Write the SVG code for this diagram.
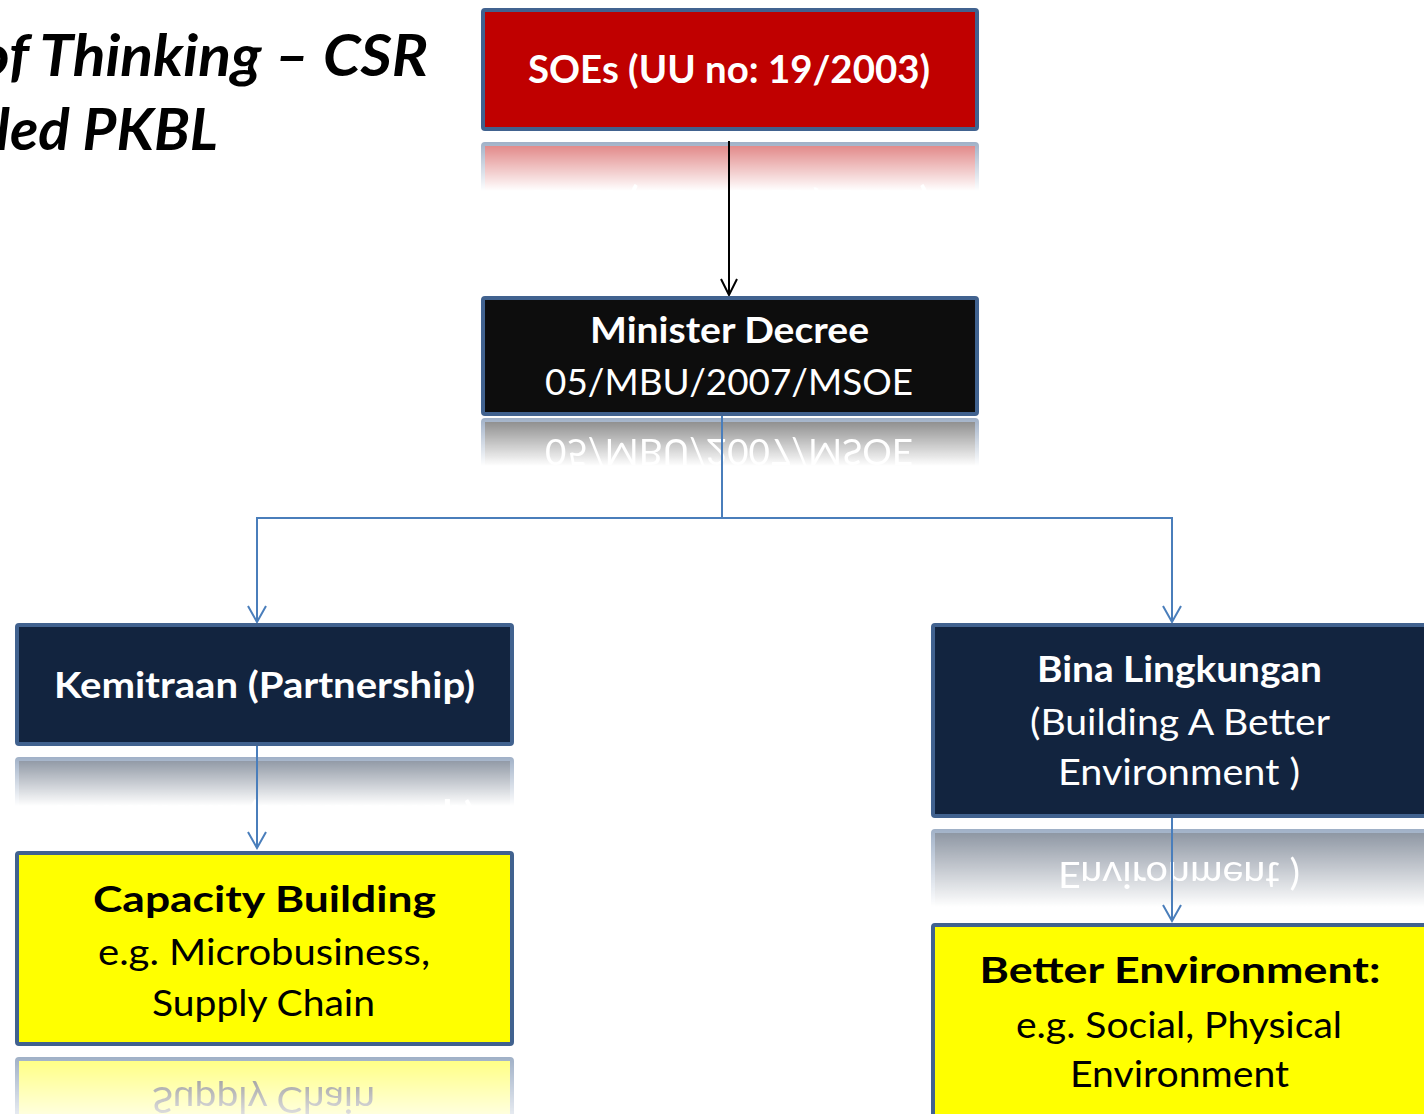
<svg xmlns="http://www.w3.org/2000/svg" xmlns:xlink="http://www.w3.org/1999/xlink" width="1424" height="1114" viewBox="0 0 1424 1114">
<style>
.box{stroke:#41628F;stroke-width:4}
.t{font-family:Lato,"Open Sans","Liberation Sans",sans-serif;font-size:36px;text-anchor:middle}
.b{font-weight:bold}
.w{fill:#FFFFFF}
.k{fill:#000000}
.title{font-family:Lato,"Open Sans","Liberation Sans",sans-serif;font-size:58px;font-weight:bold;font-style:italic;fill:#000}
.blue{stroke:#4A7EBB;stroke-width:2;fill:none}
.black{stroke:#000;stroke-width:2;fill:none}
</style>
<defs>
<linearGradient id="fade" x1="0" y1="0" x2="0" y2="1">
<stop offset="0" stop-color="#fff" stop-opacity="0.5"/>
<stop offset="1" stop-color="#fff" stop-opacity="0"/>
</linearGradient>
<mask id="m-soe" maskUnits="userSpaceOnUse" x="0" y="0" width="1424" height="1114"><rect x="470" y="142" width="520" height="49" fill="url(#fade)"/></mask>
<mask id="m-min" maskUnits="userSpaceOnUse" x="0" y="0" width="1424" height="1114"><rect x="470" y="418" width="520" height="48" fill="url(#fade)"/></mask>
<mask id="m-kem" maskUnits="userSpaceOnUse" x="0" y="0" width="1424" height="1114"><rect x="0" y="757" width="530" height="49" fill="url(#fade)"/></mask>
<mask id="m-bina" maskUnits="userSpaceOnUse" x="0" y="0" width="1424" height="1114"><rect x="920" y="829" width="520" height="78" fill="url(#fade)"/></mask>
<mask id="m-cap" maskUnits="userSpaceOnUse" x="0" y="0" width="1424" height="1114"><rect x="0" y="1057" width="530" height="78" fill="url(#fade)"/></mask>
<marker id="ab" viewBox="0 0 20 20" refX="18" refY="10" markerWidth="20" markerHeight="20" markerUnits="userSpaceOnUse" orient="auto"><path d="M2,1 L18,10 L2,19" fill="none" stroke="#4A7EBB" stroke-width="2"/></marker>
<marker id="ak" viewBox="0 0 20 20" refX="18" refY="10" markerWidth="20" markerHeight="20" markerUnits="userSpaceOnUse" orient="auto"><path d="M2,2 L18,10 L2,18" fill="none" stroke="#000" stroke-width="2"/></marker>
</defs>
<rect x="0" y="0" width="1424" height="1114" fill="#FFFFFF"/>

<g id="title">
<text class="title" x="-22" y="76" textLength="450" lengthAdjust="spacingAndGlyphs">of Thinking – CSR</text>
<text class="title" x="-4" y="150" textLength="222" lengthAdjust="spacingAndGlyphs">led PKBL</text>
</g>

<g id="reflections">
<g mask="url(#m-soe)"><use xlink:href="#n-soe" href="#n-soe" transform="translate(0,273) scale(1,-1)"/></g>
<g mask="url(#m-min)"><use xlink:href="#n-min" href="#n-min" transform="translate(0,834) scale(1,-1)"/></g>
<g mask="url(#m-kem)"><use xlink:href="#n-kem" href="#n-kem" transform="translate(0,1503) scale(1,-1)"/></g>
<g mask="url(#m-bina)"><use xlink:href="#n-bina" href="#n-bina" transform="translate(0,1647) scale(1,-1)"/></g>
<g mask="url(#m-cap)"><use xlink:href="#n-cap" href="#n-cap" transform="translate(0,2103) scale(1,-1)"/></g>
</g>

<g id="connectors">
<line class="black" x1="729" y1="141" x2="729" y2="295" marker-end="url(#ak)"/>
<polyline class="blue" points="722,416 722,518 257,518 257,622" marker-end="url(#ab)"/>
<polyline class="blue" points="722,518 1172,518 1172,622" marker-end="url(#ab)"/>
<line class="blue" x1="257" y1="746" x2="257" y2="848" marker-end="url(#ab)"/>
<line class="blue" x1="1172" y1="818" x2="1172" y2="921" marker-end="url(#ab)"/>
</g>

<g id="n-soe">
<rect class="box" x="483" y="10" width="494" height="119" rx="2" fill="#C00000"/>
<text class="t b w" x="729" y="83" font-size="38" textLength="402" lengthAdjust="spacingAndGlyphs" style="font-size:38px">SOEs (UU no: 19/2003)</text>
</g>

<g id="n-min">
<rect class="box" x="483" y="298" width="494" height="116" rx="2" fill="#0D0D0D"/>
<text class="t b w" x="729.5" y="343" textLength="279" lengthAdjust="spacingAndGlyphs">Minister Decree</text>
<text class="t w" x="729" y="395" textLength="368" lengthAdjust="spacingAndGlyphs">05/MBU/2007/MSOE</text>
</g>

<g id="n-kem">
<rect class="box" x="17" y="625" width="495" height="119" rx="2" fill="#12243F"/>
<text class="t b w" x="264.5" y="698" textLength="421" lengthAdjust="spacingAndGlyphs">Kemitraan (Partnership)</text>
</g>

<g id="n-bina">
<rect class="box" x="933" y="625" width="520" height="191" rx="2" fill="#12243F"/>
<text class="t b w" x="1179.5" y="682" textLength="285" lengthAdjust="spacingAndGlyphs">Bina Lingkungan</text>
<text class="t w" x="1180" y="735" textLength="300" lengthAdjust="spacingAndGlyphs">(Building A Better</text>
<text class="t w" x="1179" y="785" textLength="242" lengthAdjust="spacingAndGlyphs">Environment )</text>
</g>

<g id="n-cap">
<rect class="box" x="17" y="853" width="495" height="191" rx="2" fill="#FFFF00"/>
<text class="t b k" x="264.5" y="912" textLength="343" lengthAdjust="spacingAndGlyphs">Capacity Building</text>
<text class="t k" x="264" y="965" textLength="332" lengthAdjust="spacingAndGlyphs">e.g. Microbusiness,</text>
<text class="t k" x="263.5" y="1016" textLength="223" lengthAdjust="spacingAndGlyphs">Supply Chain</text>
</g>

<g id="n-env">
<rect class="box" x="933" y="925" width="520" height="220" rx="2" fill="#FFFF00"/>
<text class="t b k" x="1180" y="983" textLength="401" lengthAdjust="spacingAndGlyphs">Better Environment:</text>
<text class="t k" x="1179" y="1038" textLength="326" lengthAdjust="spacingAndGlyphs">e.g. Social, Physical</text>
<text class="t k" x="1179.5" y="1087" textLength="219" lengthAdjust="spacingAndGlyphs">Environment</text>
</g>
</svg>
